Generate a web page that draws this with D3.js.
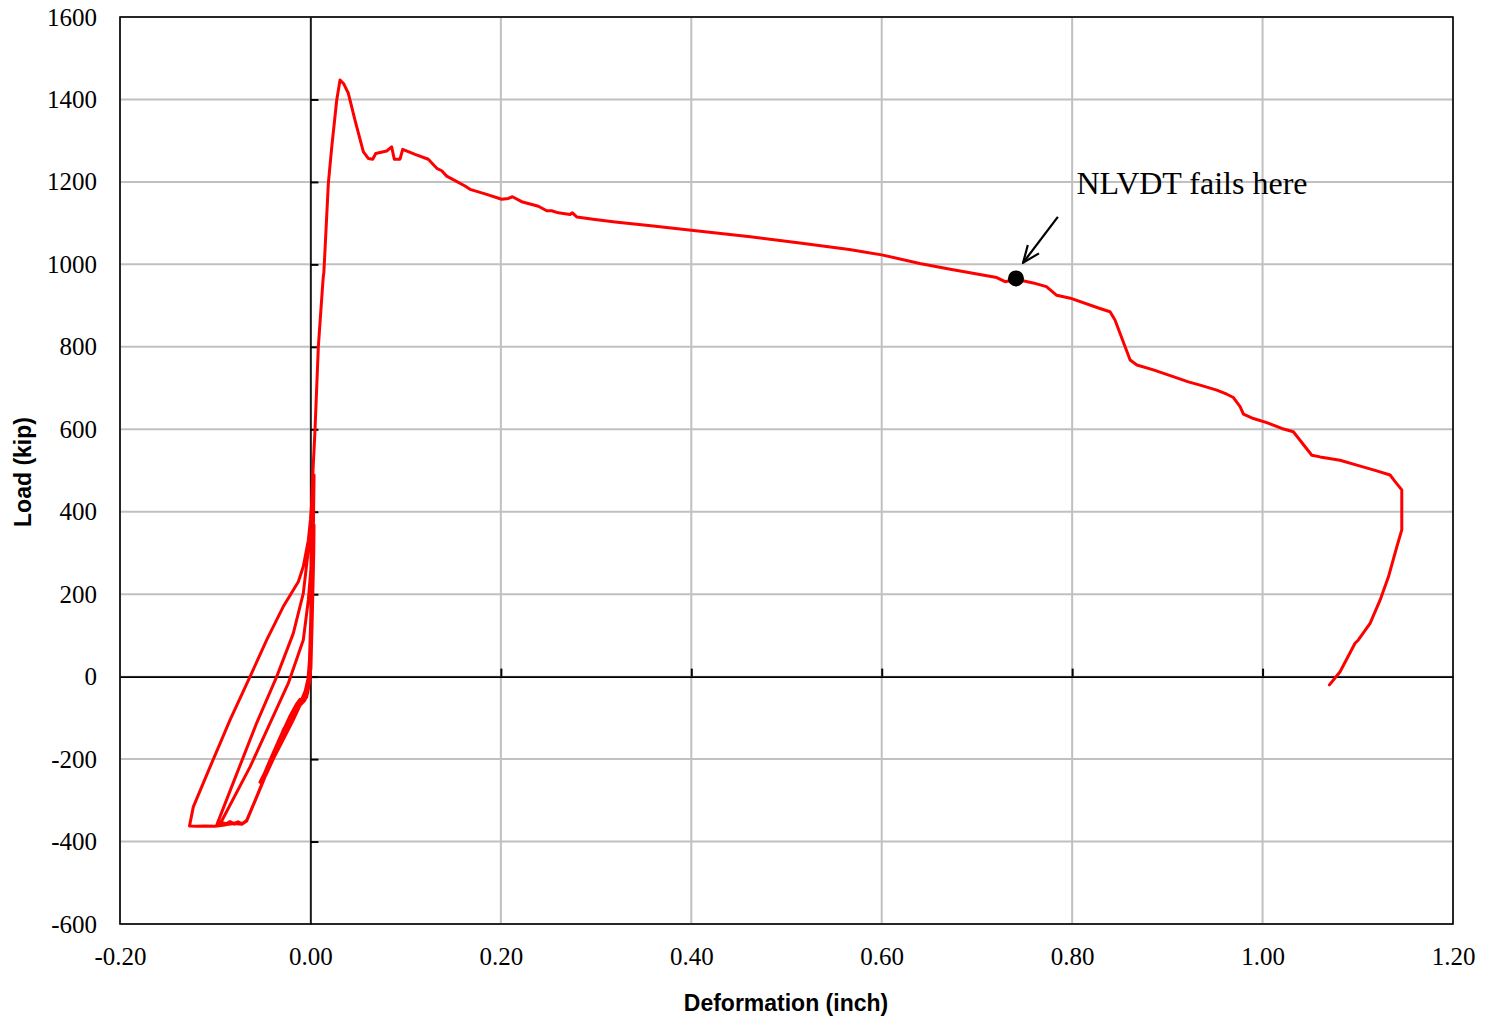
<!DOCTYPE html>
<html>
<head>
<meta charset="utf-8">
<script src="https://cdn.jsdelivr.net/npm/d3@7"></script>
<style>
  html, body { margin: 0; padding: 0; background: #fff; }
  svg { display: block; }
</style>
</head>
<body>
<svg id="chart" width="1490" height="1029"></svg>
<script>
// ---------------- DATA ----------------
const xTicks = [-0.2, 0, 0.2, 0.4, 0.6, 0.8, 1.0, 1.2];
const yTicks = [-600, -400, -200, 0, 200, 400, 600, 800, 1000, 1200, 1400, 1600];
const xTitle = "Deformation (inch)";
const yTitle = "Load (kip)";

// Cyclic (hysteresis) part of the record, in test order
const cyclicDeformation = [
  0, -0.003, -0.006, -0.012, -0.02, -0.03, -0.04, -0.048, -0.051,
  -0.047, -0.038, -0.028, -0.018, -0.008, -0.003, 0.0, 0.002, 0.003, 0.0038, 0.0035, 0.002, 0.0005, -0.004,
  -0.01, -0.02, -0.03, -0.04, -0.05, -0.052, -0.046, -0.036, -0.025, -0.014, -0.006, -0.002, 0.001, 0.0025, 0.0038, 0.0032, 0.002, 0.0, -0.004,
  -0.008, -0.011, -0.015, -0.022, -0.032, -0.042, -0.049, -0.053, -0.050, -0.041, -0.031, -0.021, -0.011, -0.005, -0.001, 0.001, 0.002, 0.001, -0.004,
  -0.009, -0.0144, -0.02, -0.0285, -0.038, -0.0494, -0.058, -0.0669, -0.071, -0.076, -0.080, -0.084, -0.088, -0.093, -0.095,
  -0.0707, -0.0634, -0.0424, -0.0232, -0.0075, -0.0022, 0.0005, 0.0015, 0.001, 0.0, -0.004,
  -0.0144, -0.0285, -0.0494, -0.0669, -0.072, -0.080, -0.088, -0.094, -0.0984,
  -0.080, -0.0564, -0.0354, -0.018, -0.0075, -0.0022, 0.0, 0.0008, 0.0005, -0.001, -0.004,
  -0.0144, -0.0285, -0.0494, -0.0669, -0.072, -0.076, -0.080, -0.085, -0.090, -0.100, -0.110, -0.120, -0.127,
  -0.123, -0.1054, -0.0844, -0.0634, -0.0459, -0.0285, -0.0127, -0.0075, -0.0022, 0.0
];
const cyclicLoad = [
  0, -40, -58, -72, -95, -140, -190, -235, -250,
  -240, -195, -150, -105, -55, -20, 30, 150, 260, 368, 300, 150, 20, -50,
  -65, -100, -145, -195, -245, -252, -230, -180, -130, -80, -40, 0, 100, 250, 489, 380, 200, 20, -48,
  -60, -55, -68, -98, -148, -200, -238, -256, -246, -205, -158, -112, -66, -32, 10, 120, 260, 100, -50,
  -62, -73, -95, -129, -185, -251, -300, -348, -356, -354, -358, -352, -357, -354, -358,
  -251, -219, -113, -16, 89, 186, 260, 300, 150, 0, -50,
  -75, -131, -253, -350, -358, -356, -359, -357, -360,
  -251, -112, 0, 105, 202, 307, 360, 330, 150, 40, -50,
  -73, -129, -251, -350, -357, -352, -356, -352, -360, -363, -362, -363, -362,
  -316, -219, -105, 0, 89, 170, 230, 267, 331, 380
];

// Monotonic part of the record (peak and softening branch)
const mainDeformation = [
  0.0013, 0.0024, 0.0048, 0.0083, 0.0130, 0.0136, 0.0141, 0.0153, 0.0188, 0.0224, 0.0276, 0.0311,
  0.0350, 0.0398, 0.0468, 0.0556, 0.0608, 0.0654, 0.0686, 0.0801, 0.0853, 0.0881, 0.0941, 0.0969,
  0.1099, 0.1238, 0.1327, 0.1379, 0.1431, 0.1519, 0.1624, 0.1676, 0.1834, 0.2009, 0.2079, 0.2121,
  0.2219, 0.2394, 0.2482, 0.2534, 0.2604, 0.2727, 0.2751, 0.2797, 0.2989, 0.32, 0.36, 0.40, 0.462,
  0.514, 0.566, 0.60, 0.640, 0.672, 0.7208, 0.7296, 0.741, 0.759, 0.773, 0.7838, 0.798, 0.8292,
  0.8398, 0.845, 0.8609, 0.868, 0.8853, 0.9046, 0.9221, 0.9344, 0.9519, 0.9624, 0.9694, 0.9764,
  0.9799, 0.9904, 1.0044, 1.0202, 1.0323, 1.0517, 1.0604, 1.0814, 1.099, 1.12, 1.1339, 1.1392,
  1.1462, 1.1462, 1.141, 1.1322, 1.1235, 1.1129, 1.1006, 1.0971, 1.0814, 1.0702
];
const mainLoad = [
  420, 485, 598, 800, 955, 972, 980, 1034, 1196, 1285, 1398, 1447,
  1438, 1415, 1350, 1273, 1257, 1255, 1269, 1275, 1285, 1255, 1255, 1279,
  1267, 1255, 1233, 1227, 1214, 1203, 1190, 1182, 1171, 1158, 1160, 1164,
  1152, 1141, 1130, 1130, 1125, 1121, 1125, 1115, 1109, 1103, 1093, 1083, 1067,
  1052, 1036, 1023, 1002, 988, 968, 958, 964, 955, 946, 925, 918, 893,
  885, 865, 768, 756, 744, 729, 715, 707, 695, 685, 677, 655,
  637, 626, 616, 602, 594, 537, 533, 525, 513, 499, 489, 473,
  453, 356, 315, 242, 186, 129, 89, 81, 12, -20
];

// Annotation
const markerPoint = [0.741, 966];
const arrowFrom = [0.785, 1115];
const arrowTo = [0.7485, 1004];
const noteText = "NLVDT fails here";
const notePos = [0.8045, 1170];

// ---------------- CHART ----------------
const svg = d3.select("#chart");
const L = 120, R = 1453, T = 17, B = 924;
const x = d3.scaleLinear().domain([-0.2, 1.2]).range([L, R]);
const y = d3.scaleLinear().domain([-600, 1600]).range([B, T]);
const hyphen = s => s.replace("\u2212", "-");

// gridlines
svg.append("g").selectAll("line").data(xTicks).join("line")
  .attr("x1", d => x(d)).attr("x2", d => x(d)).attr("y1", T).attr("y2", B)
  .attr("stroke", "#c0c0c0").attr("stroke-width", 2);
svg.append("g").selectAll("line").data(yTicks).join("line")
  .attr("x1", L).attr("x2", R).attr("y1", d => y(d)).attr("y2", d => y(d))
  .attr("stroke", "#c0c0c0").attr("stroke-width", 2);

// tick labels (outer)
const fmtX = d => hyphen(d3.format(".2f")(d));
const gx = svg.append("g").attr("transform", `translate(0,${B})`)
  .call(d3.axisBottom(x).tickValues(xTicks).tickFormat(fmtX).tickSize(0).tickPadding(23));
gx.select(".domain").remove();
gx.selectAll("text").attr("font-family", "'Liberation Serif', 'Times New Roman', serif")
  .attr("font-size", 25).attr("fill", "#000");

const fmtY = d => hyphen(d3.format("d")(d));
const gy = svg.append("g").attr("transform", `translate(${L},0)`)
  .call(d3.axisLeft(y).tickValues(yTicks).tickFormat(fmtY).tickSize(0).tickPadding(23));
gy.select(".domain").remove();
gy.selectAll("text").attr("font-family", "'Liberation Serif', 'Times New Roman', serif")
  .attr("font-size", 25).attr("fill", "#000");

// frame
svg.append("rect").attr("x", L).attr("y", T).attr("width", R - L).attr("height", B - T)
  .attr("fill", "none").attr("stroke", "#000").attr("stroke-width", 1.6);

// zero axes with inward ticks
const ax0 = svg.append("g").attr("transform", `translate(0,${y(0)})`)
  .call(d3.axisBottom(x).tickValues(xTicks.filter(d => d > -0.2 && d < 1.2)).tickFormat("").tickSize(-8).tickSizeOuter(0));
ax0.select(".domain").attr("stroke-width", 1.6);
ax0.selectAll(".tick line").attr("stroke-width", 2);
const ay0 = svg.append("g").attr("transform", `translate(${x(0)},0)`)
  .call(d3.axisLeft(y).tickValues(yTicks.filter(d => d > -600 && d < 1600)).tickFormat("").tickSize(-8).tickSizeOuter(0));
ay0.select(".domain").attr("stroke-width", 1.6);
ay0.selectAll(".tick line").attr("stroke-width", 2);

// data line
const line = d3.line().x(d => x(d[0])).y(d => y(d[1]));
const pts = cyclicDeformation.map((d, i) => [d, cyclicLoad[i]])
  .concat(mainDeformation.map((d, i) => [d, mainLoad[i]]));
svg.append("path").datum(pts).attr("d", line)
  .attr("fill", "none").attr("stroke", "#ff0000").attr("stroke-width", 3)
  .attr("stroke-linejoin", "round").attr("stroke-linecap", "round");

// marker
svg.append("circle").attr("cx", x(markerPoint[0])).attr("cy", y(markerPoint[1])).attr("r", 8).attr("fill", "#000");

// arrow
svg.append("defs").append("marker").attr("id", "arr")
  .attr("viewBox", "0 0 20 20").attr("refX", 19).attr("refY", 10)
  .attr("markerWidth", 20).attr("markerHeight", 20).attr("markerUnits", "userSpaceOnUse")
  .attr("orient", "auto")
  .append("path").attr("d", "M2,3 L19,10 L2,17").attr("fill", "none").attr("stroke", "#000").attr("stroke-width", 2.2);
svg.append("line")
  .attr("x1", x(arrowFrom[0])).attr("y1", y(arrowFrom[1]))
  .attr("x2", x(arrowTo[0])).attr("y2", y(arrowTo[1]))
  .attr("stroke", "#000").attr("stroke-width", 2.2).attr("marker-end", "url(#arr)");

// note
svg.append("text").attr("x", x(notePos[0])).attr("y", y(notePos[1]))
  .attr("font-family", "'Liberation Serif', 'Times New Roman', serif").attr("font-size", 32)
  .attr("fill", "#000").text(noteText);

// axis titles
svg.append("text").attr("x", 786).attr("y", 1011).attr("text-anchor", "middle")
  .attr("font-family", "'Liberation Sans', Arial, sans-serif").attr("font-weight", "bold").attr("font-size", 23)
  .text(xTitle);
svg.append("text").attr("transform", `translate(31,472) rotate(-90)`).attr("text-anchor", "middle")
  .attr("font-family", "'Liberation Sans', Arial, sans-serif").attr("font-weight", "bold").attr("font-size", 23)
  .text(yTitle);
</script>
</body>
</html>
